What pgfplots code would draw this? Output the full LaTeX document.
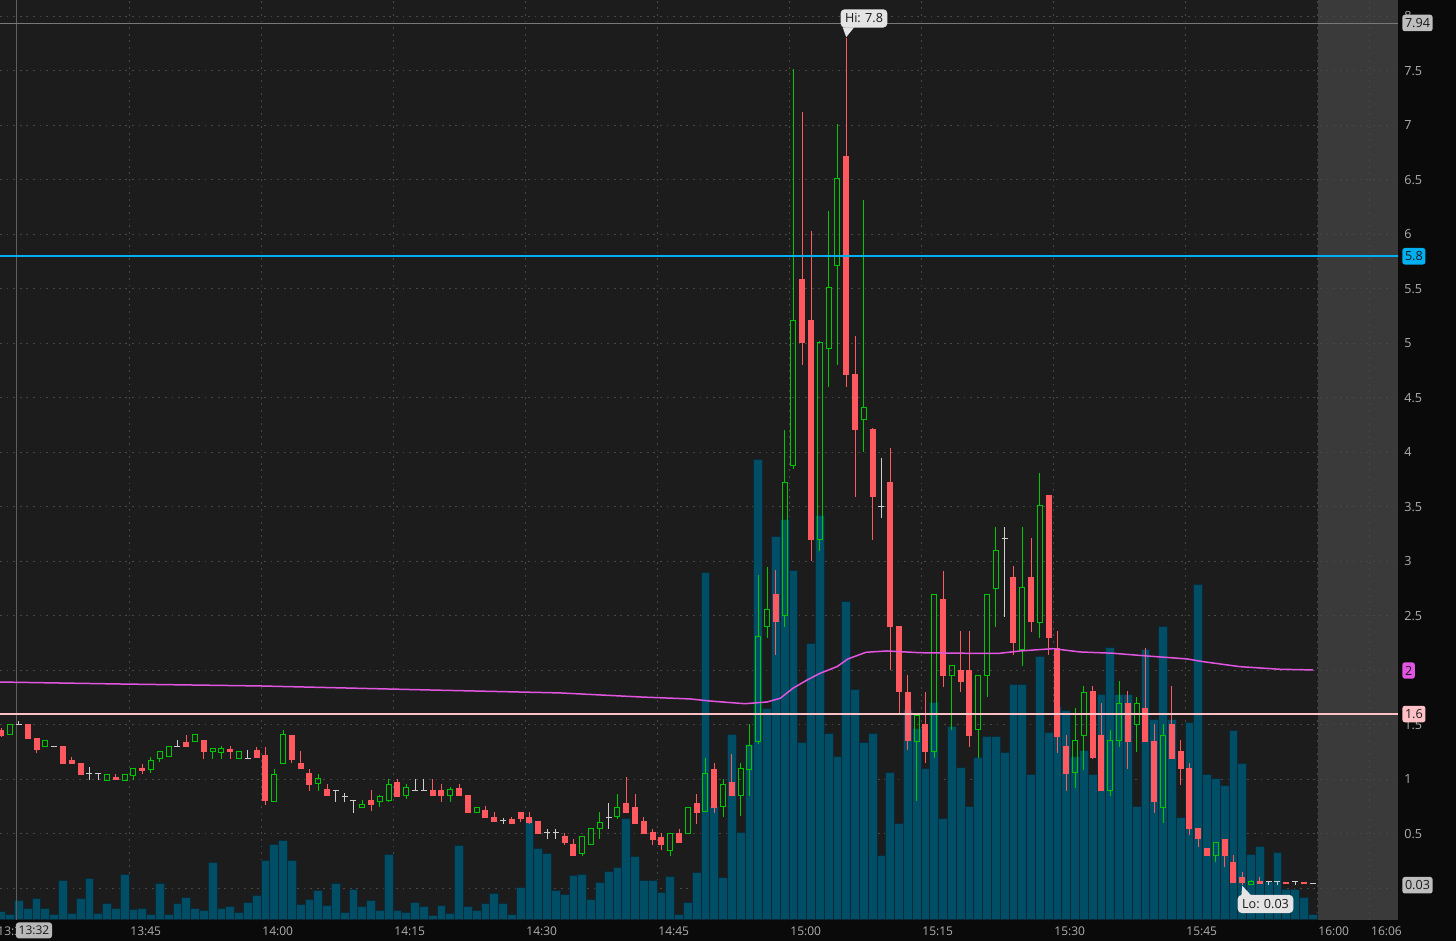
\documentclass[border=0pt]{standalone}
\usepackage{fontspec}
\setmainfont{Open Sans}
\usepackage{pgfplots}
\usepackage{pgfplotstable}
\pgfplotsset{compat=1.18}

\definecolor{outerbg}{RGB}{10,10,10}
\definecolor{plotbg}{RGB}{28,28,28}
\definecolor{ahbg}{RGB}{58,58,58}
\definecolor{gridc}{RGB}{72,72,72}
\definecolor{volf}{RGB}{0,77,102}
\definecolor{vole}{RGB}{12,40,52}
\definecolor{cup}{RGB}{0,200,0}
\definecolor{cdn}{RGB}{255,88,94}
\definecolor{cdoji}{RGB}{205,205,205}
\definecolor{cma}{RGB}{225,85,225}
\definecolor{ccyan}{RGB}{0,176,240}
\definecolor{cpink}{RGB}{255,192,198}
\definecolor{ticktxt}{RGB}{175,175,175}
\definecolor{callout}{RGB}{228,228,228}
\definecolor{boxgray}{RGB}{190,190,190}
\definecolor{darktxt}{RGB}{25,25,25}

\pgfplotstableread{
t O H L C
31 1.415 1.506 1.415 1.506
35 1.30 1.355 1.30 1.355
42 0.995 1.05 0.995 1.05
44 0.995 1.05 0.995 1.05
45 1.04 1.105 0.995 1.105
47 1.093 1.21 1.06 1.17
48 1.19 1.26 1.16 1.26
49 1.21 1.307 1.21 1.307
52 1.35 1.41 1.35 1.41
54 1.255 1.285 1.19 1.285
55 1.25 1.31 1.19 1.28
57 1.195 1.255 1.195 1.255
61 0.80 1.10 0.80 1.05
62 1.15 1.455 1.15 1.41
66 0.965 1.05 0.897 1.005
71 0.745 0.81 0.745 0.775
73 0.80 0.86 0.745 0.84
74 0.81 1.0 0.797 0.955
76 0.85 0.955 0.82 0.925
81 0.85 0.93 0.797 0.905
84 0.695 0.745 0.695 0.745
96 0.323 0.48 0.298 0.48
97 0.40 0.552 0.40 0.552
98 0.546 0.70 0.45 0.604
100 0.66 0.87 0.635 0.745
106 0.347 0.50 0.298 0.50
108 0.50 0.745 0.50 0.745
110 0.705 1.20 0.705 1.057
112 0.75 1.005 0.66 0.955
114 0.85 1.15 0.665 1.10
115 1.094 1.506 0.85 1.31
116 1.347 2.875 1.33 2.31
117 2.40 2.95 2.30 2.555
119 2.50 4.21 2.40 3.72
120 3.88 7.52 3.85 5.215
123 3.205 5.02 3.10 5.007
124 4.956 6.218 4.60 5.512
125 5.714 7.01 4.80 6.515
128 4.305 6.32 4.0 4.41
134 1.353 1.59 0.80 1.59
136 1.255 2.70 1.195 2.70
138 1.95 2.05 1.455 2.05
141 1.455 1.955 1.195 1.955
142 1.95 2.70 1.76 2.70
143 2.754 3.314 2.40 3.105
146 2.197 3.314 2.04 2.763
148 2.442 3.815 2.30 3.509
152 1.066 1.653 0.919 1.356
153 1.402 1.858 1.087 1.796
156 0.897 1.454 0.849 1.356
157 1.362 1.906 1.30 1.699
159 1.50 1.76 1.255 1.70
162 0.745 1.506 0.598 1.408
168 0.301 0.424 0.246 0.424
172 0.04 0.08 0.04 0.065
}\up

\pgfplotstableread{
t O H L C
30 1.455 1.47 1.39 1.40
33 1.509 1.509 1.369 1.369
34 1.378 1.378 1.246 1.271
37 1.31 1.31 1.142 1.142
38 1.179 1.204 1.142 1.142
39 1.154 1.154 1.041 1.041
43 1.02 1.05 0.995 0.995
46 1.108 1.14 1.05 1.08
51 1.34 1.41 1.30 1.30
53 1.36 1.36 1.19 1.255
56 1.28 1.31 1.19 1.25
59 1.27 1.30 1.195 1.195
60 1.225 1.30 0.77 0.80
63 1.41 1.41 1.15 1.18
64 1.155 1.26 1.095 1.095
65 1.057 1.10 0.897 0.95
67 0.91 0.955 0.85 0.85
72 0.81 0.90 0.71 0.77
75 0.98 1.0 0.837 0.837
79 0.905 1.0 0.85 0.85
80 0.905 0.955 0.797 0.85
82 0.925 0.955 0.85 0.85
83 0.857 0.857 0.69 0.69
85 0.72 0.76 0.645 0.645
86 0.653 0.70 0.613 0.613
88 0.635 0.66 0.59 0.59
89 0.70 0.70 0.61 0.635
90 0.653 0.70 0.59 0.604
91 0.622 0.622 0.497 0.497
94 0.48 0.505 0.40 0.42
95 0.408 0.45 0.298 0.298
101 0.78 1.025 0.69 0.69
102 0.75 0.87 0.59 0.59
103 0.622 0.653 0.497 0.497
104 0.52 0.55 0.40 0.445
105 0.475 0.505 0.35 0.40
107 0.506 0.55 0.415 0.415
109 0.78 0.87 0.59 0.69
111 1.10 1.155 0.69 0.735
113 0.975 1.23 0.85 0.85
118 2.70 2.92 2.14 2.447
121 5.593 7.127 4.80 5.002
122 5.215 6.03 3.0 3.20
126 6.72 7.80 4.60 4.71
127 4.72 5.07 3.595 4.21
129 4.215 4.22 3.20 3.595
131 3.727 4.04 2.0 2.40
132 2.41 2.41 1.61 1.805
133 1.805 1.96 1.27 1.353
135 1.506 1.805 1.15 1.255
137 2.653 2.91 1.85 1.95
139 2.005 2.36 1.805 1.897
140 2.005 2.36 1.30 1.40
145 2.86 2.96 2.14 2.255
147 2.86 3.213 2.35 2.448
149 3.61 3.61 2.14 2.30
150 2.204 2.36 1.246 1.393
151 1.307 1.41 0.897 1.048
154 1.812 1.858 1.19 1.194
155 1.408 1.705 0.89 0.894
158 1.705 1.81 1.094 1.347
160 1.653 2.204 1.347 1.347
161 1.356 1.506 0.695 0.796
163 1.506 1.858 1.188 1.188
164 1.261 1.362 0.95 1.094
165 1.103 1.149 0.491 0.543
166 0.552 0.552 0.383 0.451
167 0.374 0.374 0.298 0.298
169 0.454 0.454 0.20 0.301
170 0.246 0.307 0.048 0.048
171 0.103 0.154 0.03 0.048
173 0.065 0.11 0.04 0.04
176 0.06 0.06 0.04 0.04
178 0.06 0.06 0.04 0.04
}\dn

\pgfplotstableread{
t H L C
32 1.535 1.505 1.505
36 1.307 1.307 1.307
40 1.11 0.995 1.058
41 1.057 0.995 1.057
50 1.36 1.30 1.30
58 1.27 1.195 1.195
68 0.90 0.797 0.90
69 0.875 0.797 0.842
70 0.81 0.69 0.81
77 1.0 0.897 0.897
78 1.0 0.897 0.897
87 0.65 0.59 0.622
92 0.55 0.45 0.512
93 0.55 0.45 0.512
99 0.78 0.546 0.65
130 3.95 3.40 3.50
144 3.314 2.49 3.213
174 0.06 0.035 0.06
175 0.06 0.035 0.06
177 0.06 0.035 0.06
179 0.05 0.05 0.05
}\doji

\pgfplotstableread{
t v
30 8
31 5
32 19
33 11
34 21
35 11
36 5
37 39
38 6
39 21
40 41
41 6
42 16
43 11
44 45
45 10
46 11
47 5
48 36
49 5
50 16
51 22
52 11
53 9
54 57
55 11
56 13
57 7
58 17
59 24
60 59
61 75
62 79
63 59
64 15
65 20
66 29
67 14
68 36
69 7
70 30
71 13
72 19
73 9
74 65
75 9
76 7
77 17
78 13
79 4
80 14
81 6
82 74
83 13
84 9
85 16
86 26
87 16
88 5
89 32
90 100
91 71
92 66
93 29
94 25
95 44
96 45
97 20
98 37
99 48
100 52
101 101
102 63
103 39
104 39
105 27
106 43
107 5
108 17
109 47
110 347
111 113
112 42
113 185
114 87
115 175
116 460
117 211
118 383
119 400
120 349
121 177
122 276
123 404
124 186
125 163
126 318
127 230
128 177
129 186
130 64
131 147
132 96
133 210
134 191
135 151
136 217
137 101
138 193
139 152
140 113
141 162
142 183
143 183
144 167
145 235
146 235
147 145
148 263
149 187
150 213
151 209
152 163
153 169
154 145
155 225
156 272
157 225
158 225
159 113
160 270
161 200
162 293
163 200
164 102
165 197
166 335
167 145
168 141
169 134
170 189
171 156
172 65
173 73
174 38
175 67
176 30
177 30
178 22
179 5
}\vol

\pgfplotsset{
  ebar/.style 2 args={only marks, mark=none, mark size=0pt,
    mark options={draw=none, fill=none}, forget plot,
    error bars/.cd, y dir=plus, y explicit, error mark=none,
    error bar style={line width=#1, color=#2, line cap=butt}},
  hbar/.style={only marks, mark=none, mark size=0pt,
    mark options={draw=none, fill=none}, forget plot,
    error bars/.cd, x dir=both, x fixed=0.34, error mark=none,
    error bar style={line width=0.5pt, color=#1, line cap=butt}},
}

\begin{document}
\begin{tikzpicture}
\fill[outerbg] (0pt,0pt) rectangle (728pt,470.5pt);
\fill[plotbg] (0pt,10.5pt) rectangle (659pt,470.5pt);
\fill[ahbg] (659pt,10.5pt) rectangle (699pt,470.5pt);

% ---------- volume axis (with grid and time labels) ----------
\begin{axis}[
  at={(0pt,10.5pt)}, anchor=south west,
  scale only axis, width=699pt, height=460pt,
  xmin=30.341, xmax=189.205, ymin=0, ymax=920,
  axis line style={draw=none}, major tick length=0pt,
  xtick={45,60,75,90,105,120,135,150,165,180,186},
  xticklabels={13:45,14:00,14:15,14:30,14:45,15:00,15:15,15:30,15:45,16:00,16:06},
  xticklabel style={anchor=base west, inner sep=0pt, yshift=-8pt, xshift=0.5pt,
     font=\fontsize{6}{7}\selectfont, text=ticktxt},
  ytick={31.5,86,140.5,195,249.5,304,358.5,413,467.5,522,576.5,631,685.5,740,794.5,849,903.5},
  yticklabels={},
  xmajorgrids, ymajorgrids,
  grid style={gridc, line width=0.5pt, dash pattern=on 0.9pt off 2.4pt},
  ybar, bar width=1,
]
\addplot[fill=volf, draw=vole, line width=0.5pt] table[x expr=\thisrow{t}+0.5, y=v] {\vol};
\end{axis}

% ---------- price axis ----------
\begin{axis}[
  at={(0pt,10.5pt)}, anchor=south west,
  scale only axis, width=699pt, height=460pt,
  xmin=30.341, xmax=189.205, ymin=-0.289, ymax=8.151,
  clip=false,
  axis line style={draw=none}, major tick length=0pt,
  xtick=\empty,
  ytick={0,0.5,1,1.5,2,2.5,3,3.5,4,4.5,5,5.5,6,6.5,7,7.5,8},
  yticklabels={0,0.5,1,1.5,2,2.5,3,3.5,4,4.5,5,5.5,6,6.5,7,7.5,8},
  yticklabel pos=right,
  yticklabel style={anchor=west, inner sep=0pt, xshift=3pt,
     font=\fontsize{6.3}{7}\selectfont, text=ticktxt},
]
% cursor line
\draw[color={rgb,255:red,95;green,95;blue,95}, line width=0.5pt] (axis cs:32.16,-0.289) -- (axis cs:32.16,8.151);

% down candles
\addplot[ebar={0.5pt}{cdn}] table[x expr=\thisrow{t}+0.5, y=L, y error expr=\thisrow{H}-\thisrow{L}] {\dn};
\addplot[ebar={3pt}{cdn}] table[x expr=\thisrow{t}+0.5, y=C, y error expr=\thisrow{O}-\thisrow{C}] {\dn};

% up candles (hollow)
\addplot[ebar={0.5pt}{cup}] table[x expr=\thisrow{t}+0.5, y=L, y error expr=\thisrow{O}-\thisrow{L}] {\up};
\addplot[ebar={0.5pt}{cup}] table[x expr=\thisrow{t}+0.5, y=C, y error expr=\thisrow{H}-\thisrow{C}] {\up};
\addplot[ebar={0.5pt}{cup}] table[x expr=\thisrow{t}+0.5-0.284, y=O, y error expr=\thisrow{C}-\thisrow{O}] {\up};
\addplot[ebar={0.5pt}{cup}] table[x expr=\thisrow{t}+0.5+0.284, y=O, y error expr=\thisrow{C}-\thisrow{O}] {\up};
\addplot[hbar=cup] table[x expr=\thisrow{t}+0.5, y=O] {\up};
\addplot[hbar=cup] table[x expr=\thisrow{t}+0.5, y=C] {\up};

% doji
\addplot[ebar={0.5pt}{cdoji}] table[x expr=\thisrow{t}+0.5, y=L, y error expr=\thisrow{H}-\thisrow{L}] {\doji};
\addplot[hbar=cdoji] table[x expr=\thisrow{t}+0.5, y=C] {\doji};

% moving average
\addplot[cma, line width=0.75pt] coordinates {
(30.34,1.894) (44,1.876) (59.9,1.858) (79.2,1.821) (94,1.794) (103.1,1.757)
(108.75,1.739) (111,1.72) (115,1.695) (117.5,1.711) (119,1.745) (120.45,1.837)
(122,1.91) (123.52,1.974) (125.45,2.035) (126.7,2.106) (128.75,2.167) (131.14,2.179)
(134.89,2.163) (140,2.158) (143.98,2.158) (146.25,2.179) (150,2.2) (153.07,2.17)
(156.82,2.158) (160.68,2.133) (165.23,2.106) (167.05,2.081) (171.25,2.035)
(175.8,2.011) (179.55,2.005)};

% horizontal level lines
\addplot[color={rgb,255:red,120;green,120;blue,120}, line width=0.4pt] coordinates {(30.341,7.94) (189.205,7.94)};
\addplot[ccyan, line width=1pt] coordinates {(30.341,5.8) (189.205,5.8)};
\addplot[cpink, line width=0.8pt] coordinates {(30.341,1.6) (189.205,1.6)};

% anchors for right-side boxes
\coordinate (b794) at (axis cs:189.205,7.94);
\coordinate (b58) at (axis cs:189.205,5.8);
\coordinate (b2) at (axis cs:189.205,2.0);
\coordinate (b16) at (axis cs:189.205,1.6);
\coordinate (b003) at (axis cs:189.205,0.03);

% Hi / Lo callouts
\fill[callout] (axis cs:126.1,7.90) -- (axis cs:127.4,7.90) -- (axis cs:126.5,7.81) -- cycle;
\node[fill=callout, rounded corners=2pt, inner xsep=2.2pt, inner ysep=2.2pt, font=\fontsize{6.3}{7}\selectfont,
      text=darktxt] at (axis cs:128.52,7.982) {Hi: 7.8};
\fill[callout] (axis cs:171.4,-0.07) -- (axis cs:172.6,-0.07) -- (axis cs:171.5,0.025) -- cycle;
\node[fill=callout, rounded corners=2pt, inner xsep=2.2pt, inner ysep=2.2pt, font=\fontsize{6.3}{7}\selectfont,
      text=darktxt] at (axis cs:174.15,-0.142) {Lo: 0.03};
\end{axis}

% right-side value boxes (drawn over the tick labels, as in the reference)
\begin{scope}[every node/.style={anchor=west, inner xsep=1.3pt, inner ysep=1.8pt, rounded corners=1.2pt,
    font=\fontsize{6.3}{7}\selectfont, text=darktxt, xshift=2pt}]
\node[fill=boxgray] at (b794) {7.94};
\node[fill=ccyan] at (b58) {5.8};
\node[fill=cma] at (b2) {2};
\node[fill=cpink] at (b16) {1.6};
\node[fill=boxgray] at (b003) {0.03};
\end{scope}

% cut-off and boxed time labels at left
\node[anchor=base west, inner sep=0pt, font=\fontsize{6}{7}\selectfont, text=ticktxt] at (-1.5pt,2.5pt) {13:30};
\node[fill={rgb,255:red,185;green,185;blue,185}, rounded corners=1.5pt, inner xsep=1.4pt, inner ysep=1.8pt,
      font=\fontsize{6}{7}\selectfont, text=darktxt] at (17pt,5.3pt) {13:32};

\pgfresetboundingbox
\useasboundingbox (0pt,0pt) rectangle (728pt,470.5pt);
\end{tikzpicture}
\end{document}
